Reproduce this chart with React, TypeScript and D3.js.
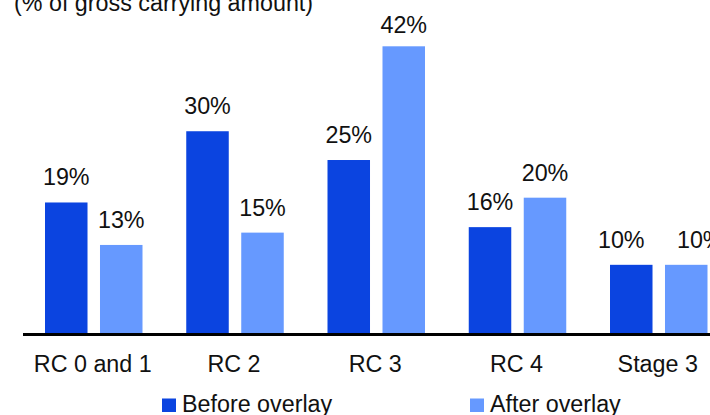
import React from "react";
import * as d3 from "d3";

const categories = ["RC 0 and 1", "RC 2", "RC 3", "RC 4", "Stage 3"];
const seriesNames = ["Before overlay", "After overlay"];
const beforeOverlay = [19.2, 29.6, 25.4, 15.6, 10.1];
const afterOverlay = [13.0, 14.8, 42.0, 19.9, 10.1];
const title = "(% of gross carrying amount)";

const W = 710;
const H = 415;
const colors = ["#0B44E0", "#6699FF"];
const FONT = "Arial, 'Liberation Sans', Helvetica, sans-serif";
const FS = 23.3;

export default function App() {
  const baseline = 334;
  const x0 = d3
    .scaleBand<string>()
    .domain(categories)
    .range([45, 45 + 4 * 141.25 + 97.5])
    .paddingInner(1 - 97.5 / 141.25)
    .paddingOuter(0);
  const x1 = d3
    .scaleBand<string>()
    .domain(seriesNames)
    .range([0, x0.bandwidth()])
    .paddingInner(0.227)
    .paddingOuter(0);
  const y = d3.scaleLinear().domain([0, 42]).range([baseline, baseline - 42 * 6.85]);
  const fmt = d3.format(".0f");

  const series = [beforeOverlay, afterOverlay];

  return (
    <svg
      width={W}
      height={H}
      style={{ position: "absolute", left: 0, top: 0, background: "#fff" }}
      fontFamily={FONT}
    >
      <text x={14} y={11} fontSize={FS} fill="#111">
        {title}
      </text>
      {categories.map((c, i) => {
        const labelYs = series.map((vals) => Math.max(y(vals[i]) - 17, 33));
        const collide = Math.abs(labelYs[0] - labelYs[1]) < 20;
        const shifts = collide ? [-10, 14] : [0, 0];
        return (
          <g key={c} transform={`translate(${x0(c)},0)`}>
            {series.map((vals, s) => {
              const v = vals[i];
              const bx = x1(seriesNames[s])!;
              const top = y(v);
              return (
                <g key={s}>
                  <rect
                    x={bx}
                    y={top}
                    width={x1.bandwidth()}
                    height={baseline - top}
                    fill={colors[s]}
                  />
                  <text
                    x={bx + x1.bandwidth() / 2 + shifts[s]}
                    y={labelYs[s]}
                    textAnchor="middle"
                    fontSize={FS}
                    fill="#111"
                  >
                    {fmt(v)}%
                  </text>
                </g>
              );
            })}
            <text
              x={x0.bandwidth() / 2 - 1}
              y={372}
              textAnchor="middle"
              fontSize={FS}
              fill="#111"
            >
              {c}
            </text>
          </g>
        );
      })}
      <line x1={23} x2={W} y1={334.5} y2={334.5} stroke="#000" strokeWidth={3} />
      {seriesNames.map((n, s) => {
        const lx = s === 0 ? 162 : 470;
        return (
          <g key={n}>
            <rect x={lx} y={398.5} width={14} height={13.5} fill={colors[s]} />
            <text x={lx + 20} y={412} fontSize={FS} fill="#111">
              {n}
            </text>
          </g>
        );
      })}
    </svg>
  );
}
